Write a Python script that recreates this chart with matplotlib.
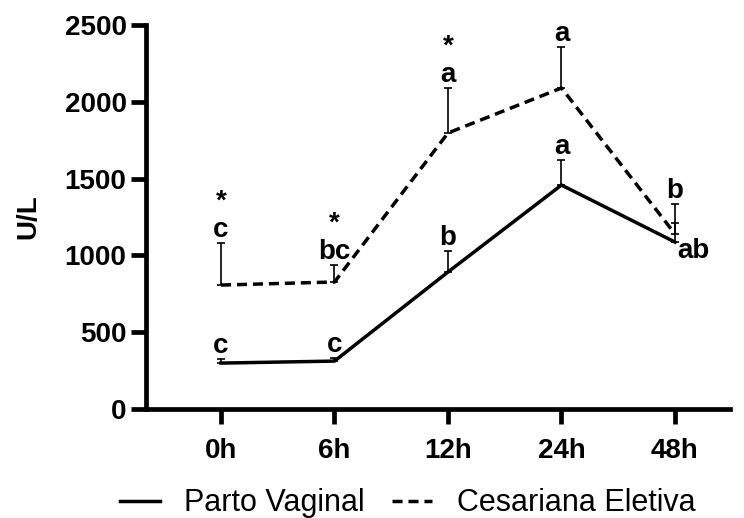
import matplotlib
matplotlib.use("Agg")
import matplotlib.pyplot as plt
from matplotlib.lines import Line2D

categories = ["0h", "6h", "12h", "24h", "48h"]
parto_vaginal = [299, 312, 892, 1458, 1087]
parto_vaginal_err = [27, 20, 137, 163, 124]
cesariana = [807, 827, 1797, 2090, 1140]
cesariana_err = [274, 111, 293, 267, 195]
parto_letters = ["c", "c", "b", "a", "ab"]
cesariana_letters = ["c", "bc", "a", "a", "b"]
cesariana_star = ["*", "*", "*", "", ""]
yticks = [0, 500, 1000, 1500, 2000, 2500]

plt.rcParams['font.family'] = ['Liberation Sans', 'DejaVu Sans']

fig = plt.figure(figsize=(7.44, 5.18), dpi=100)
ax = fig.add_axes([0.1962, 0.2104, 0.785, 0.7413])

x = list(range(len(categories)))
dash = (0, (2.9, 1.7))

ax.plot(x, parto_vaginal, color='black', lw=2.5, solid_joinstyle='miter', zorder=3)
ax.plot(x, cesariana, color='black', lw=2.5, linestyle=dash, zorder=3)
ax.errorbar(x, parto_vaginal, yerr=[[0]*5, parto_vaginal_err], fmt='none',
            ecolor='black', elinewidth=1.2, capsize=2.6, capthick=1.2, zorder=2)
ax.errorbar(x, cesariana, yerr=[[0]*5, cesariana_err], fmt='none',
            ecolor='black', elinewidth=1.2, capsize=2.6, capthick=1.2, zorder=2)

lfs = 20
for i in range(len(categories)):
    top = cesariana[i] + cesariana_err[i]
    label = cesariana_letters[i]
    if cesariana_star[i]:
        label = cesariana_star[i] + "\n" + label
    ax.annotate(label, (i, top), xytext=(0, 4.5), textcoords='offset points',
                ha='center', va='baseline', multialignment='center',
                linespacing=1.1, fontsize=lfs, fontweight='bold')
for i in range(len(categories)):
    top = parto_vaginal[i] + parto_vaginal_err[i]
    if parto_letters[i] == "ab":
        ax.annotate(parto_letters[i], (i, parto_vaginal[i]), xytext=(2, -11.5), textcoords='offset points',
                    ha='left', va='baseline', fontsize=lfs, fontweight='bold')
    else:
        ax.annotate(parto_letters[i], (i, top), xytext=(0, 4.5), textcoords='offset points',
                    ha='center', va='baseline', fontsize=lfs, fontweight='bold')

ax.set_xlim(-0.661, 4.485)
ax.set_ylim(0, 2500)
ax.set_xticks(x)
ax.set_xticklabels(categories, fontsize=20, fontweight='bold')
ax.set_yticks(yticks)
ax.set_yticklabels([str(t) for t in yticks], fontsize=20, fontweight='bold')
ax.set_ylabel("U/L", fontsize=20, fontweight='bold', labelpad=17)

for s in ['top', 'right']:
    ax.spines[s].set_visible(False)
for s in ['left', 'bottom']:
    ax.spines[s].set_linewidth(3.4)
ax.spines['left'].set_capstyle('projecting')
ax.spines['bottom'].set_capstyle('projecting')
ax.tick_params(axis='both', width=3.4, length=11)
ax.tick_params(axis='y', pad=3)
ax.tick_params(axis='x', pad=10)

handles = [Line2D([], [], color='black', lw=2.5),
           Line2D([], [], color='black', lw=2.5, linestyle=dash)]
fig.legend(handles, ["Parto Vaginal", "Cesariana Eletiva"], loc='center',
           bbox_to_anchor=(0.548, 0.028), ncol=2, frameon=False, fontsize=22,
           handlelength=1.3, columnspacing=0.9, handletextpad=0.8)

fig.savefig("out.png", dpi=100)
